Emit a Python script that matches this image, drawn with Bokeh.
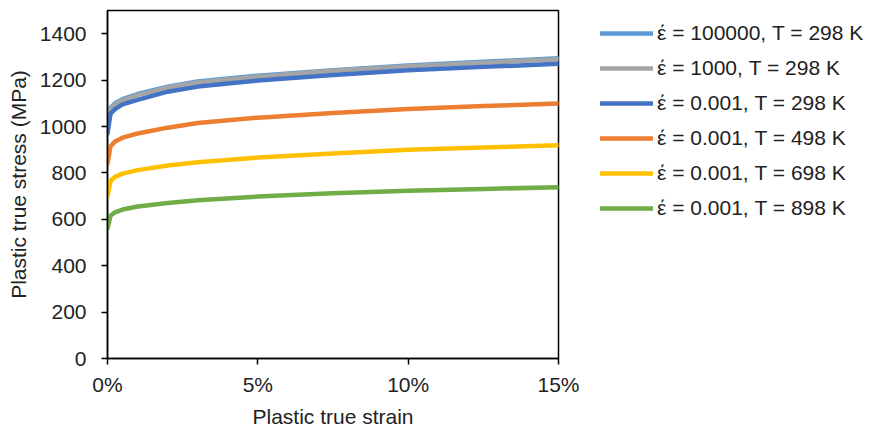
from bokeh.plotting import figure
from bokeh.models import Legend, LegendItem, NumeralTickFormatter, FixedTicker, Range1d
from bokeh.embed import file_html
from bokeh.resources import INLINE

strain = [0.0, 0.001, 0.0025, 0.005, 0.01, 0.02, 0.03, 0.05, 0.075, 0.10, 0.125, 0.15]

s_1e5_298 = [1005, 1080, 1100, 1118, 1140, 1172, 1194, 1219, 1243, 1263, 1279, 1294]
s_1e3_298 = [1000, 1075, 1095, 1113, 1135, 1168, 1190, 1215, 1240, 1260, 1275, 1290]
s_001_298 = [970, 1055, 1075, 1095, 1115, 1150, 1172, 1198, 1222, 1242, 1257, 1270]
s_001_498 = [840, 915, 935, 952, 970, 995, 1015, 1038, 1058, 1075, 1088, 1099]
s_001_698 = [700, 765, 783, 797, 812, 832, 846, 866, 884, 900, 910, 919]
s_001_898 = [560, 615, 630, 642, 655, 670, 682, 698, 712, 723, 731, 738]

labels = ["έ = 100000, T = 298 K", "έ = 1000, T = 298 K", "έ = 0.001, T = 298 K",
          "έ = 0.001, T = 498 K", "έ = 0.001, T = 698 K", "έ = 0.001, T = 898 K"]
colors = ["#5B9BD5", "#A5A5A5", "#4472C4", "#ED7D31", "#FFC000", "#70AD47"]
series = [s_1e5_298, s_1e3_298, s_001_298, s_001_498, s_001_698, s_001_898]

x_ticks = [0.0, 0.05, 0.10, 0.15]
y_ticks = [0, 200, 400, 600, 800, 1000, 1200, 1400]

FONT = "Liberation Sans"
FS = "21px"

p = figure(frame_width=451, frame_height=348, output_backend="svg", toolbar_location=None,
           x_range=Range1d(0, 0.15), y_range=Range1d(0, 1500),
           min_border_left=107, min_border_right=305, min_border_top=10, min_border_bottom=0)
p.outline_line_color = "black"
p.outline_line_width = 1.5
p.xgrid.visible = False
p.ygrid.visible = False
p.background_fill_color = "white"
p.border_fill_color = "white"

items = []
for ys, c, lab in zip(series, colors, labels):
    r = p.line(strain, ys, line_color=c, line_width=4.5, line_join="round", line_cap="round")
    items.append(LegendItem(label=lab, renderers=[r]))

for ax in (p.xaxis[0], p.yaxis[0]):
    ax.axis_line_color = "black"
    ax.axis_line_width = 1.5
    ax.major_tick_in = 0
    ax.major_tick_out = 6
    ax.major_tick_line_color = "black"
    ax.major_tick_line_width = 1.5
    ax.minor_tick_line_color = None
    ax.major_label_text_font = FONT
    ax.major_label_text_font_size = FS
    ax.major_label_text_color = "#222222"
    ax.axis_label_text_font = FONT
    ax.axis_label_text_font_size = FS
    ax.axis_label_text_font_style = "normal"
    ax.axis_label_text_color = "#222222"

p.xaxis.ticker = FixedTicker(ticks=x_ticks)
p.xaxis.formatter = NumeralTickFormatter(format="0%")
p.yaxis.ticker = FixedTicker(ticks=y_ticks)
p.xaxis.axis_label = "Plastic true strain"
p.yaxis.axis_label = "Plastic true stress (MPa)"
p.xaxis.major_label_standoff = 8
p.yaxis.major_label_standoff = 15
p.xaxis.axis_label_standoff = 6
p.yaxis.axis_label_standoff = 7

legend = Legend(items=items, location=(42, 138), border_line_color=None,
                background_fill_alpha=0, label_text_font=FONT,
                label_text_font_size=FS, label_text_color="#222222",
                glyph_width=53, glyph_height=24, label_height=24, spacing=11,
                padding=0, margin=0, label_standoff=4)
p.add_layout(legend, "right")

open("out.html", "w").write(file_html(p, INLINE))
